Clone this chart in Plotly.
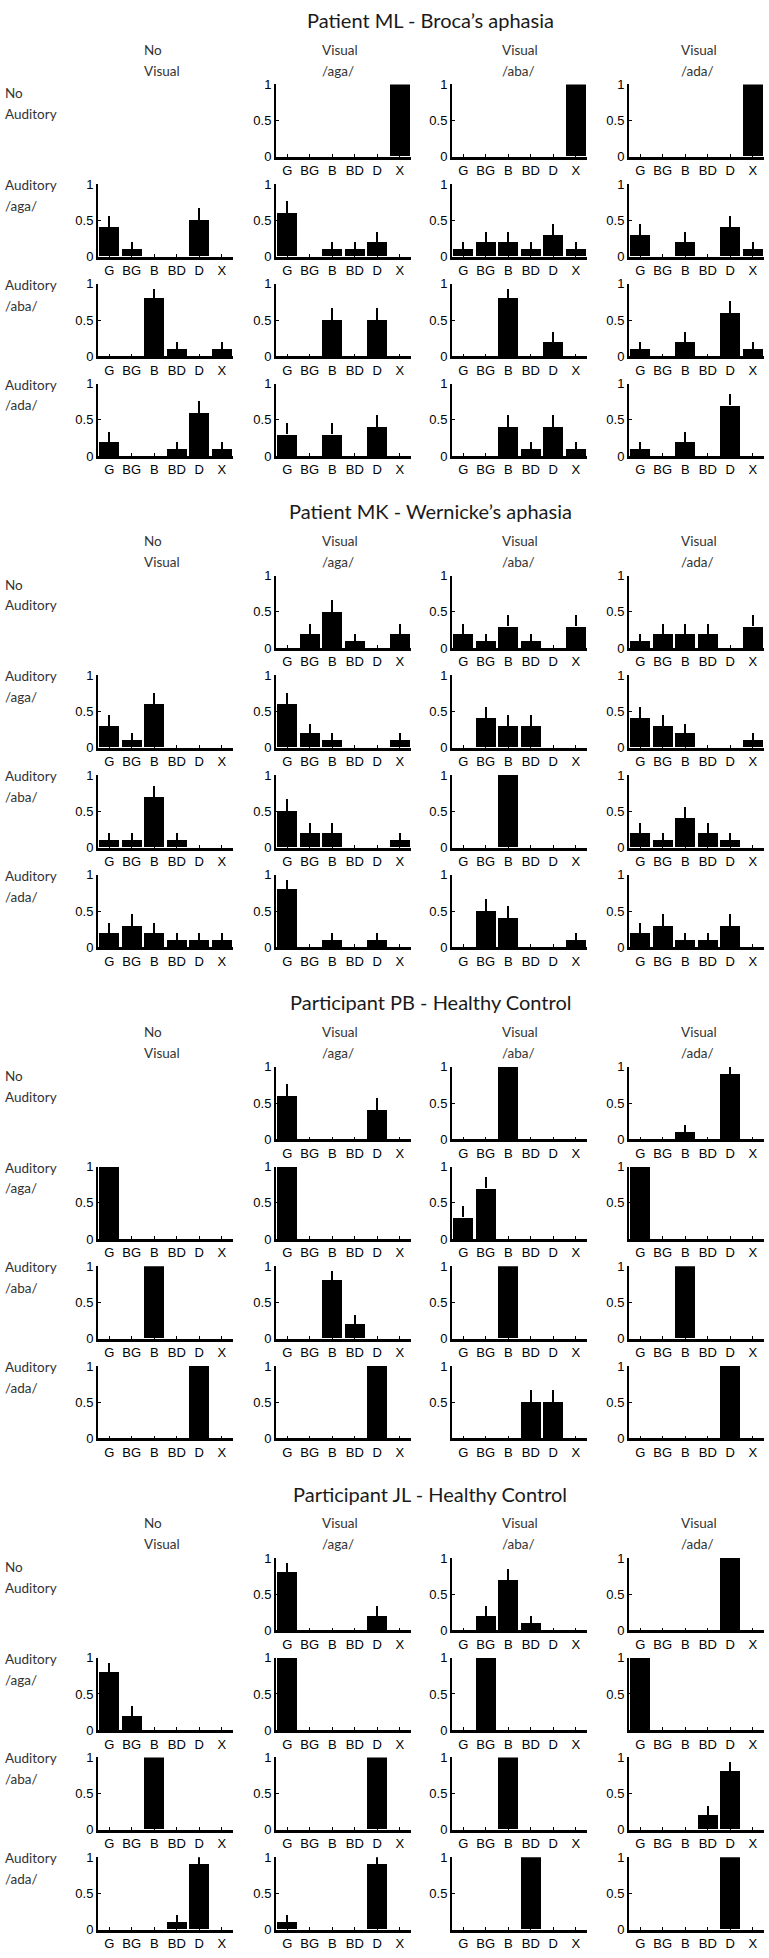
import plotly.graph_objects as go

# ---------------- data ----------------
CATEGORIES = ["G", "BG", "B", "BD", "D", "X"]
Y_TICKS = [0, 0.5, 1]
Y_TICK_TEXT = ["0", "0.5", "1"]

BLOCK_TITLES = [
    "Patient ML - Broca\u2019s aphasia",
    "Patient MK - Wernicke\u2019s aphasia",
    "Participant PB - Healthy Control",
    "Participant JL - Healthy Control",
]
COL_HEADERS = [("No", "Visual"), ("Visual", "/aga/"), ("Visual", "/aba/"), ("Visual", "/ada/")]
ROW_LABELS = [("No", "Auditory"), ("Auditory", "/aga/"), ("Auditory", "/aba/"), ("Auditory", "/ada/")]

# proportion of responses per category; one list per panel (None = empty cell)
# columns: No Visual, Visual /aga/, Visual /aba/, Visual /ada/
ML_no_auditory = [None,
                  [0, 0, 0, 0, 0, 1],
                  [0, 0, 0, 0, 0, 1],
                  [0, 0, 0, 0, 0, 1]]
ML_auditory_aga = [[0.4, 0.1, 0, 0, 0.5, 0],
                   [0.6, 0, 0.1, 0.1, 0.2, 0],
                   [0.1, 0.2, 0.2, 0.1, 0.3, 0.1],
                   [0.3, 0, 0.2, 0, 0.4, 0.1]]
ML_auditory_aba = [[0, 0, 0.8, 0.1, 0, 0.1],
                   [0, 0, 0.5, 0, 0.5, 0],
                   [0, 0, 0.8, 0, 0.2, 0],
                   [0.1, 0, 0.2, 0, 0.6, 0.1]]
ML_auditory_ada = [[0.2, 0, 0, 0.1, 0.6, 0.1],
                   [0.3, 0, 0.3, 0, 0.4, 0],
                   [0, 0, 0.4, 0.1, 0.4, 0.1],
                   [0.1, 0, 0.2, 0, 0.7, 0]]

MK_no_auditory = [None,
                  [0, 0.2, 0.5, 0.1, 0, 0.2],
                  [0.2, 0.1, 0.3, 0.1, 0, 0.3],
                  [0.1, 0.2, 0.2, 0.2, 0, 0.3]]
MK_auditory_aga = [[0.3, 0.1, 0.6, 0, 0, 0],
                   [0.6, 0.2, 0.1, 0, 0, 0.1],
                   [0, 0.4, 0.3, 0.3, 0, 0],
                   [0.4, 0.3, 0.2, 0, 0, 0.1]]
MK_auditory_aba = [[0.1, 0.1, 0.7, 0.1, 0, 0],
                   [0.5, 0.2, 0.2, 0, 0, 0.1],
                   [0, 0, 1, 0, 0, 0],
                   [0.2, 0.1, 0.4, 0.2, 0.1, 0]]
MK_auditory_ada = [[0.2, 0.3, 0.2, 0.1, 0.1, 0.1],
                   [0.8, 0, 0.1, 0, 0.1, 0],
                   [0, 0.5, 0.4, 0, 0, 0.1],
                   [0.2, 0.3, 0.1, 0.1, 0.3, 0]]

PB_no_auditory = [None,
                  [0.6, 0, 0, 0, 0.4, 0],
                  [0, 0, 1, 0, 0, 0],
                  [0, 0, 0.1, 0, 0.9, 0]]
PB_auditory_aga = [[1, 0, 0, 0, 0, 0],
                   [1, 0, 0, 0, 0, 0],
                   [0.3, 0.7, 0, 0, 0, 0],
                   [1, 0, 0, 0, 0, 0]]
PB_auditory_aba = [[0, 0, 1, 0, 0, 0],
                   [0, 0, 0.8, 0.2, 0, 0],
                   [0, 0, 1, 0, 0, 0],
                   [0, 0, 1, 0, 0, 0]]
PB_auditory_ada = [[0, 0, 0, 0, 1, 0],
                   [0, 0, 0, 0, 1, 0],
                   [0, 0, 0, 0.5, 0.5, 0],
                   [0, 0, 0, 0, 1, 0]]

JL_no_auditory = [None,
                  [0.8, 0, 0, 0, 0.2, 0],
                  [0, 0.2, 0.7, 0.1, 0, 0],
                  [0, 0, 0, 0, 1, 0]]
JL_auditory_aga = [[0.8, 0.2, 0, 0, 0, 0],
                   [1, 0, 0, 0, 0, 0],
                   [0, 1, 0, 0, 0, 0],
                   [1, 0, 0, 0, 0, 0]]
JL_auditory_aba = [[0, 0, 1, 0, 0, 0],
                   [0, 0, 0, 0, 1, 0],
                   [0, 0, 1, 0, 0, 0],
                   [0, 0, 0, 0.2, 0.8, 0]]
JL_auditory_ada = [[0, 0, 0, 0.1, 0.9, 0],
                   [0.1, 0, 0, 0, 0.9, 0],
                   [0, 0, 0, 1, 0, 0],
                   [0, 0, 0, 0, 1, 0]]

# length of the (upward) error bar for each bar height
ERRBAR_BY_PROPORTION = {0: 0, 0.1: 0.10, 0.2: 0.133, 0.3: 0.153, 0.4: 0.163, 0.5: 0.167,
                        0.6: 0.163, 0.7: 0.153, 0.8: 0.133, 0.9: 0.10, 1: 0}

# panels whose y axis shows no "0" label: (block, row, col)
NO_ZERO_LABEL = {(2, 1, 3), (2, 3, 2), (3, 1, 3), (3, 3, 2)}

BLOCKS = [
    [ML_no_auditory, ML_auditory_aga, ML_auditory_aba, ML_auditory_ada],
    [MK_no_auditory, MK_auditory_aga, MK_auditory_aba, MK_auditory_ada],
    [PB_no_auditory, PB_auditory_aga, PB_auditory_aba, PB_auditory_ada],
    [JL_no_auditory, JL_auditory_aga, JL_auditory_aba, JL_auditory_ada],
]

# ---------------- layout geometry (pixels) ----------------
W, H = 769, 1958
COL_LEFT = [98, 276, 452, 629]
PANEL_W = 135
PANEL_H = 73
BLOCK_PITCH = 495
ROW_PITCH = 100.5
ROW1_TOP = 78
TITLE_Y = 13
TITLE_X = 430
HEADER_Y = [43, 64]
HEADER_X = [142, 320, 500, 679]
ROW_LABEL_X = 3

TEXT_FONT = "Lato, 'Open Sans', sans-serif"
TICK_FONT = "'Liberation Sans', Arial, sans-serif"


def px(x):
    return x / W


def py(y):
    return 1 - y / H


fig = go.Figure()
layout = {}
annotations = []
k = 0
for b, block in enumerate(BLOCKS):
    off = b * BLOCK_PITCH
    annotations.append(dict(x=px(TITLE_X), y=py(off + TITLE_Y), xref="paper", yref="paper",
                            text=BLOCK_TITLES[b], showarrow=False, xanchor="center",
                            yanchor="middle", font=dict(family=TEXT_FONT, size=20, color="#1a1a1a")))
    for c, (l1, l2) in enumerate(COL_HEADERS):
        for line, yy in zip((l1, l2), HEADER_Y):
            annotations.append(dict(x=px(HEADER_X[c]), y=py(off + yy), xref="paper", yref="paper",
                                    text=line, showarrow=False, xanchor="left", yanchor="middle",
                                    font=dict(family=TEXT_FONT, size=13.5, color="#333333")))
    for r, (l1, l2) in enumerate(ROW_LABELS):
        top = off + ROW1_TOP + r * ROW_PITCH
        ys = (top + 9, top + 30) if r == 0 else (top + 1, top + 22)
        for line, yy in zip((l1, l2), ys):
            annotations.append(dict(x=px(ROW_LABEL_X), y=py(yy), xref="paper", yref="paper",
                                    text=line, showarrow=False, xanchor="left", yanchor="middle",
                                    font=dict(family=TEXT_FONT, size=13.5, color="#333333")))
        for c in range(4):
            vals = block[r][c]
            if vals is None:
                continue
            k += 1
            xa = "x" if k == 1 else f"x{k}"
            ya = "y" if k == 1 else f"y{k}"
            errs = [ERRBAR_BY_PROPORTION[round(v, 1)] for v in vals]
            fig.add_trace(go.Bar(
                x=CATEGORIES, y=vals, xaxis=xa, yaxis=ya, width=0.88,
                marker=dict(color="black", line=dict(width=0)),
                error_y=dict(type="data", symmetric=False, array=errs,
                             arrayminus=[0] * len(vals), width=0, thickness=2, color="black"),
                showlegend=False, hoverinfo="x+y",
            ))
            left = COL_LEFT[c]
            tv = list(Y_TICKS)
            tt = list(Y_TICK_TEXT)
            if (b, r, c) in NO_ZERO_LABEL:
                tv, tt = tv[1:], tt[1:]
            layout["xaxis" if k == 1 else f"xaxis{k}"] = dict(
                domain=[px(left), px(left + PANEL_W)], anchor=ya,
                type="category", range=[-0.5, 5.5], showline=True, linecolor="black", linewidth=2.5,
                ticks="inside", ticklen=3, tickwidth=1, tickcolor="black",
                showgrid=False, zeroline=False, fixedrange=True,
                tickfont=dict(family=TICK_FONT, size=13, color="black"))
            layout["yaxis" if k == 1 else f"yaxis{k}"] = dict(
                domain=[py(top + PANEL_H), py(top)], anchor=xa,
                range=[0, 1], tickvals=tv, ticktext=tt, showline=True, linecolor="black", linewidth=2,
                ticks="inside", ticklen=3, tickwidth=1, tickcolor="black",
                showgrid=False, zeroline=False, fixedrange=True,
                tickfont=dict(family=TICK_FONT, size=13, color="black"))

fig.update_layout(**layout)
fig.update_layout(width=W, height=H, margin=dict(l=0, r=0, t=0, b=0), autosize=False,
                  plot_bgcolor="white", paper_bgcolor="white", annotations=annotations,
                  bargap=0)
fig.write_html("out.html", config={"displayModeBar": False},
               post_script="document.body.style.margin='0';document.body.style.overflow='hidden';")
